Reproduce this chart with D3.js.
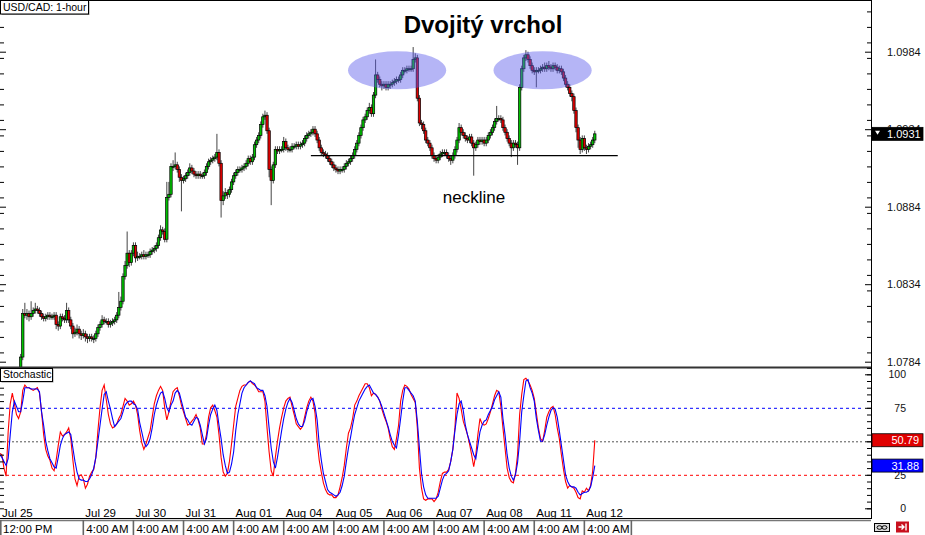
<!DOCTYPE html>
<html><head><meta charset="utf-8">
<script src="https://cdn.jsdelivr.net/npm/d3@7"></script>
<style>body{margin:0;background:#fff;} svg{display:block;font-family:Arial,"Liberation Sans",sans-serif;}</style>
</head><body><svg id="c" width="925" height="535"></svg>
<script>
// ---------------- DATA ----------------
const closes = [
1.0772,1.0773,1.0771,1.0770,1.0772,1.0774,1.0773,1.0775,1.0774,1.0776,
1.0787,1.0815,1.0814,1.0815,1.0813,1.0815,1.0817,1.0818,1.0817,1.0815,
1.0813,1.0812,1.0813,1.0814,1.0813,1.0813,1.0814,1.0808,1.0807,1.0813,
1.0812,1.0811,1.0817,1.0811,1.0807,1.0802,1.0803,1.0805,1.0802,1.0801,
1.0802,1.0800,1.0799,1.0800,1.0799,1.0799,1.0802,1.0806,1.0808,1.0811,
1.0810,1.0810,1.0808,1.0809,1.0810,1.0811,1.0814,1.0819,1.0823,1.0839,
1.0846,1.0854,1.0848,1.0854,1.0859,1.0851,1.0852,1.0852,1.0853,1.0852,
1.0853,1.0853,1.0855,1.0856,1.0857,1.0859,1.0864,1.0869,1.0868,1.0863,
1.0890,1.0892,1.0910,1.0910,1.0911,1.0908,1.0903,1.0901,1.0902,1.0904,
1.0906,1.0909,1.0907,1.0905,1.0904,1.0905,1.0904,1.0904,1.0906,1.0910,
1.0913,1.0914,1.0915,1.0916,1.0919,1.0912,1.0888,1.0891,1.0893,1.0892,
1.0895,1.0900,1.0904,1.0906,1.0908,1.0908,1.0909,1.0910,1.0912,1.0915,
1.0913,1.0916,1.0924,1.0927,1.0930,1.0937,1.0942,1.0943,1.0933,1.0908,
1.0901,1.0911,1.0921,1.0920,1.0921,1.0921,1.0926,1.0922,1.0921,1.0921,
1.0923,1.0923,1.0924,1.0923,1.0924,1.0925,1.0928,1.0930,1.0931,1.0932,
1.0934,1.0931,1.0927,1.0922,1.0919,1.0918,1.0917,1.0915,1.0913,1.0911,
1.0909,1.0908,1.0907,1.0908,1.0908,1.0910,1.0912,1.0913,1.0915,1.0917,
1.0921,1.0925,1.0930,1.0935,1.0940,1.0942,1.0946,1.0948,1.0944,1.0956,
1.0969,1.0966,1.0963,1.0962,1.0963,1.0961,1.0963,1.0963,1.0964,1.0965,
1.0966,1.0966,1.0969,1.0972,1.0972,1.0973,1.0973,1.0973,1.0979,1.0980,
1.0954,1.0938,1.0937,1.0933,1.0927,1.0925,1.0922,1.0917,1.0915,1.0914,
1.0916,1.0918,1.0919,1.0919,1.0917,1.0915,1.0914,1.0917,1.0921,1.0927,
1.0935,1.0932,1.0930,1.0928,1.0927,1.0929,1.0925,1.0922,1.0924,1.0927,
1.0926,1.0927,1.0925,1.0927,1.0930,1.0932,1.0935,1.0939,1.0941,1.0941,
1.0940,1.0935,1.0932,1.0928,1.0925,1.0922,1.0925,1.0924,1.0922,1.0961,
1.0973,1.0980,1.0982,1.0979,1.0975,1.0972,1.0971,1.0972,1.0972,1.0973,
1.0974,1.0973,1.0975,1.0974,1.0973,1.0975,1.0974,1.0972,1.0973,1.0971,
1.0967,1.0963,1.0961,1.0957,1.0955,1.0946,1.0935,1.0927,1.0921,1.0928,
1.0922,1.0921,1.0923,1.0924,1.0927,1.0931];

const opens = [
1.0771,1.0772,1.0773,1.0771,1.0770,1.0772,1.0774,1.0773,1.0775,1.0774,
1.0776,1.0787,1.0815,1.0814,1.0815,1.0813,1.0815,1.0817,1.0818,1.0817,
1.0815,1.0813,1.0812,1.0813,1.0814,1.0813,1.0813,1.0814,1.0808,1.0807,
1.0813,1.0812,1.0811,1.0817,1.0811,1.0807,1.0802,1.0803,1.0805,1.0802,
1.0801,1.0802,1.0800,1.0799,1.0800,1.0799,1.0799,1.0802,1.0806,1.0808,
1.0811,1.0810,1.0810,1.0808,1.0809,1.0810,1.0811,1.0814,1.0819,1.0823,
1.0839,1.0846,1.0854,1.0848,1.0854,1.0859,1.0851,1.0852,1.0852,1.0853,
1.0852,1.0853,1.0853,1.0855,1.0856,1.0857,1.0859,1.0864,1.0869,1.0868,
1.0863,1.0890,1.0892,1.0910,1.0910,1.0911,1.0908,1.0903,1.0901,1.0902,
1.0904,1.0906,1.0909,1.0907,1.0905,1.0904,1.0905,1.0904,1.0904,1.0906,
1.0910,1.0913,1.0914,1.0915,1.0916,1.0919,1.0912,1.0888,1.0891,1.0893,
1.0892,1.0895,1.0900,1.0904,1.0906,1.0908,1.0908,1.0909,1.0910,1.0912,
1.0915,1.0913,1.0916,1.0924,1.0927,1.0930,1.0937,1.0942,1.0943,1.0933,
1.0908,1.0901,1.0911,1.0921,1.0920,1.0921,1.0921,1.0926,1.0922,1.0921,
1.0921,1.0923,1.0923,1.0924,1.0923,1.0924,1.0925,1.0928,1.0930,1.0931,
1.0932,1.0934,1.0931,1.0927,1.0922,1.0919,1.0918,1.0917,1.0915,1.0913,
1.0911,1.0909,1.0908,1.0907,1.0908,1.0908,1.0910,1.0912,1.0913,1.0915,
1.0917,1.0921,1.0925,1.0930,1.0935,1.0940,1.0942,1.0946,1.0948,1.0944,
1.0956,1.0969,1.0966,1.0963,1.0962,1.0963,1.0961,1.0963,1.0963,1.0964,
1.0965,1.0966,1.0966,1.0969,1.0972,1.0972,1.0973,1.0973,1.0973,1.0979,
1.0980,1.0954,1.0938,1.0937,1.0933,1.0927,1.0925,1.0922,1.0917,1.0915,
1.0914,1.0916,1.0918,1.0919,1.0919,1.0917,1.0915,1.0914,1.0917,1.0921,
1.0927,1.0935,1.0932,1.0930,1.0928,1.0927,1.0929,1.0925,1.0922,1.0924,
1.0927,1.0926,1.0927,1.0925,1.0927,1.0930,1.0932,1.0935,1.0939,1.0941,
1.0941,1.0940,1.0935,1.0932,1.0928,1.0925,1.0922,1.0925,1.0924,1.0922,
1.0961,1.0973,1.0980,1.0982,1.0979,1.0975,1.0972,1.0971,1.0972,1.0972,
1.0973,1.0974,1.0973,1.0975,1.0974,1.0973,1.0975,1.0974,1.0972,1.0973,
1.0971,1.0967,1.0963,1.0961,1.0957,1.0955,1.0946,1.0935,1.0927,1.0921,
1.0928,1.0922,1.0921,1.0923,1.0924,1.0927];

const highs = [
1.0774,1.0775,1.0775,1.0773,1.0774,1.0776,1.0776,1.0777,1.0777,1.0778,
1.0789,1.0818,1.0822,1.0818,1.0817,1.0823,1.0819,1.0822,1.0820,1.0819,
1.0817,1.0815,1.0815,1.0816,1.0816,1.0815,1.0816,1.0816,1.0810,1.0815,
1.0815,1.0814,1.0822,1.0819,1.0813,1.0809,1.0806,1.0808,1.0807,1.0804,
1.0805,1.0804,1.0802,1.0802,1.0802,1.0801,1.0804,1.0808,1.0810,1.0814,
1.0813,1.0812,1.0812,1.0811,1.0812,1.0813,1.0816,1.0829,1.0826,1.0841,
1.0849,1.0868,1.0856,1.0856,1.0861,1.0861,1.0855,1.0854,1.0855,1.0856,
1.0855,1.0855,1.0857,1.0858,1.0859,1.0861,1.0866,1.0872,1.0871,1.0870,
1.0900,1.0900,1.0912,1.0914,1.0919,1.0913,1.0910,1.0905,1.0904,1.0906,
1.0908,1.0912,1.0911,1.0909,1.0907,1.0907,1.0907,1.0906,1.0908,1.0912,
1.0915,1.0916,1.0917,1.0918,1.0931,1.0921,1.0914,1.0894,1.0896,1.0895,
1.0897,1.0902,1.0906,1.0908,1.0910,1.0910,1.0911,1.0912,1.0914,1.0917,
1.0917,1.0918,1.0926,1.0929,1.0932,1.0939,1.0944,1.0946,1.0945,1.0935,
1.0910,1.0913,1.0923,1.0923,1.0923,1.0923,1.0929,1.0928,1.0924,1.0923,
1.0925,1.0925,1.0926,1.0926,1.0926,1.0927,1.0930,1.0932,1.0933,1.0934,
1.0936,1.0936,1.0933,1.0929,1.0924,1.0921,1.0920,1.0919,1.0917,1.0915,
1.0913,1.0911,1.0910,1.0910,1.0910,1.0912,1.0914,1.0915,1.0917,1.0919,
1.0923,1.0927,1.0932,1.0937,1.0942,1.0944,1.0948,1.0951,1.0950,1.0958,
1.0979,1.0971,1.0968,1.0965,1.0965,1.0965,1.0965,1.0965,1.0966,1.0967,
1.0968,1.0968,1.0971,1.0974,1.0974,1.0975,1.0975,1.0975,1.0987,1.0983,
1.0982,1.0956,1.0940,1.0939,1.0935,1.0929,1.0927,1.0924,1.0919,1.0917,
1.0918,1.0920,1.0921,1.0921,1.0921,1.0919,1.0917,1.0919,1.0923,1.0929,
1.0938,1.0937,1.0934,1.0932,1.0930,1.0931,1.0931,1.0927,1.0926,1.0929,
1.0929,1.0929,1.0929,1.0929,1.0932,1.0934,1.0937,1.0941,1.0949,1.0943,
1.0943,1.0942,1.0937,1.0934,1.0930,1.0927,1.0927,1.0927,1.0926,1.0963,
1.0975,1.0982,1.0985,1.0984,1.0981,1.0977,1.0974,1.0974,1.0974,1.0975,
1.0976,1.0977,1.0977,1.0978,1.0976,1.0977,1.0977,1.0976,1.0975,1.0975,
1.0973,1.0969,1.0965,1.0963,1.0959,1.0957,1.0948,1.0937,1.0929,1.0930,
1.0930,1.0924,1.0925,1.0926,1.0929,1.0933];

const lows = [
1.0769,1.0770,1.0769,1.0768,1.0768,1.0770,1.0771,1.0771,1.0772,1.0772,
1.0774,1.0785,1.0812,1.0811,1.0810,1.0811,1.0813,1.0815,1.0815,1.0813,
1.0811,1.0810,1.0810,1.0811,1.0811,1.0811,1.0811,1.0805,1.0804,1.0805,
1.0810,1.0809,1.0809,1.0809,1.0805,1.0799,1.0800,1.0801,1.0799,1.0798,
1.0799,1.0797,1.0796,1.0797,1.0797,1.0796,1.0797,1.0800,1.0804,1.0806,
1.0808,1.0808,1.0806,1.0806,1.0807,1.0808,1.0809,1.0812,1.0817,1.0821,
1.0837,1.0844,1.0845,1.0846,1.0852,1.0848,1.0849,1.0850,1.0850,1.0850,
1.0850,1.0851,1.0851,1.0853,1.0854,1.0855,1.0857,1.0862,1.0866,1.0861,
1.0861,1.0888,1.0890,1.0907,1.0908,1.0906,1.0900,1.0881,1.0899,1.0900,
1.0902,1.0904,1.0905,1.0903,1.0902,1.0902,1.0902,1.0902,1.0902,1.0904,
1.0908,1.0911,1.0912,1.0913,1.0914,1.0910,1.0877,1.0885,1.0889,1.0889,
1.0890,1.0893,1.0898,1.0902,1.0904,1.0906,1.0906,1.0907,1.0908,1.0910,
1.0911,1.0911,1.0914,1.0922,1.0925,1.0928,1.0935,1.0940,1.0931,1.0903,
1.0885,1.0899,1.0909,1.0918,1.0918,1.0919,1.0919,1.0920,1.0919,1.0919,
1.0919,1.0921,1.0921,1.0921,1.0921,1.0922,1.0923,1.0926,1.0928,1.0929,
1.0930,1.0929,1.0925,1.0920,1.0917,1.0916,1.0915,1.0913,1.0911,1.0909,
1.0907,1.0906,1.0905,1.0905,1.0906,1.0906,1.0908,1.0910,1.0911,1.0913,
1.0915,1.0919,1.0923,1.0928,1.0933,1.0938,1.0940,1.0944,1.0942,1.0942,
1.0954,1.0964,1.0961,1.0959,1.0960,1.0959,1.0959,1.0960,1.0961,1.0962,
1.0963,1.0964,1.0964,1.0967,1.0970,1.0970,1.0971,1.0971,1.0971,1.0977,
1.0952,1.0936,1.0934,1.0931,1.0925,1.0923,1.0920,1.0915,1.0913,1.0912,
1.0912,1.0914,1.0916,1.0917,1.0915,1.0913,1.0911,1.0912,1.0915,1.0919,
1.0925,1.0930,1.0928,1.0926,1.0925,1.0925,1.0923,1.0904,1.0920,1.0922,
1.0924,1.0924,1.0923,1.0923,1.0925,1.0928,1.0930,1.0933,1.0937,1.0939,
1.0938,1.0933,1.0930,1.0926,1.0923,1.0916,1.0920,1.0922,1.0911,1.0920,
1.0959,1.0971,1.0978,1.0977,1.0973,1.0970,1.0969,1.0961,1.0970,1.0970,
1.0971,1.0971,1.0971,1.0972,1.0971,1.0971,1.0972,1.0970,1.0970,1.0969,
1.0965,1.0961,1.0959,1.0955,1.0952,1.0944,1.0932,1.0922,1.0918,1.0919,
1.0920,1.0918,1.0919,1.0921,1.0922,1.0925];

const stochK = [
41,40,30,24,57,78,86,78,70,67,
72,88,92,90,90,89,88,89,90,86,
72,55,44,39,36,30,28,36,47,57,
54,55,57,60,52,36,22,17,24,25,
22,15,18,24,27,29,38,58,75,88,
92,81,70,63,60,61,63,67,70,76,
82,80,77,78,80,77,70,58,49,44,
48,53,58,68,78,84,88,91,88,75,
66,72,80,87,89,90,84,77,72,67,
62,63,65,67,70,66,60,48,48,55,
68,75,77,73,68,55,38,27,24,26,
35,48,62,76,82,88,91,92,92,94,
95,93,92,90,87,87,87,80,60,42,
28,24,38,50,60,68,75,80,82,83,
76,70,63,61,59,61,68,75,80,83,
80,71,50,36,27,19,14,11,10,10,
8,8,10,16,23,32,45,56,60,67,
77,80,84,87,90,93,93,90,84,86,
85,83,80,74,69,65,60,52,46,44,
52,62,80,88,92,91,89,85,82,79,
60,30,15,7,6,7,7,7,5,7,
12,20,26,27,27,29,35,44,60,86,
82,74,65,60,55,48,40,31,40,55,
67,63,62,63,67,72,78,84,88,87,
76,60,45,30,23,20,19,26,40,70,
85,96,97,95,92,88,82,71,60,52,
50,58,68,72,75,76,70,60,52,40,
29,20,15,17,16,15,12,8,7,13,
12,15,13,17,28,50.79];

const stochD = [
40,38,35,32,37,55,72,80,76,72,
72,80,90,90,90,89,89,89,89,87,
72,62,50,43,37,34,31,30,38,47,
52,55,56,57,55,45,35,27,22,21,
21,20,20,22,25,30,38,50,62,74,
85,87,80,74,67,61,63,65,67,72,
77,79,80,80,78,77,74,64,57,50,
46,48,52,60,70,77,82,86,87,82,
75,72,77,80,86,88,86,80,74,68,
66,63,62,65,68,67,62,55,48,52,
62,70,74,77,73,62,52,40,32,26,
27,33,42,58,70,78,86,90,92,94,
95,94,93,90,89,88,88,84,76,60,
45,35,30,38,48,58,67,74,79,82,
79,73,67,63,61,61,65,72,77,81,
82,76,66,48,36,26,20,14,12,11,
10,9,10,12,17,24,35,45,53,62,
70,75,80,83,86,89,91,92,89,86,
85,83,80,76,71,66,61,55,50,47,
45,55,67,80,90,90,88,86,84,80,
65,45,26,16,10,7.5,7.5,7.5,7.5,7.5,
9,15,21,25,26,28,35,44,58,70,
78,80,73,62,55,50,45,40,37,47,
57,62,65,66,70,73,76,81,84,87,
83,67,55,40,30,24,21,25,34,50,
72,84,95,96,90,86,80,67,58,50,
50,55,62,68,73,75,74,68,58,47,
36,25,20,17,16,16,15,12,10,11,
12,12,13,16,23,31.88];

const priceTicks = [1.0784, 1.0834, 1.0884, 1.0934, 1.0984];
const stochTicks = [0, 25, 50, 75, 100];
const stochTickLabels = [0, 25, 75, 100];   // "50" sits under the %K value box
const stochLevels = [75, 50, 25];
const timeIdx   = [0, 40, 64, 88, 112, 136, 160, 184, 208, 232, 256, 280];
const timeDates = ["Jul 25","Jul 29","Jul 30","Jul 31","Aug 01","Aug 04","Aug 05","Aug 06","Aug 07","Aug 08","Aug 11","Aug 12"];
const timeHours = ["12:00 PM","4:00 AM","4:00 AM","4:00 AM","4:00 AM","4:00 AM","4:00 AM","4:00 AM","4:00 AM","4:00 AM","4:00 AM","4:00 AM"];
const lastPrice = 1.0931;
const lastK = 50.79, lastD = 31.88;
const necklinePrice = 1.0917;
const necklineSpan = [149, 296];
const topCenters = [190.3, 260];
const topPrice = 1.0972;
const topHalfWidthBars = 23.5, topHalfHeight = 0.00123;

// ---------------- SCALES ----------------
const W = 925, H = 535, AX = 871;
const x = d3.scaleLinear().domain([0, 417.3]).range([-0.2, AX]);
const y = d3.scaleLinear().domain([1.0784, 1.0984]).range([361.7, 51.7]);
const ys = d3.scaleLinear().domain([0, 100]).range([508.3, 374.3]);

const svg = d3.select("#c");
svg.append("rect").attr("width", W).attr("height", H).attr("fill", "#fff");
const defs = svg.append("defs");
defs.append("clipPath").attr("id","cm").append("rect").attr("x",0).attr("y",1).attr("width",AX).attr("height",366);
defs.append("clipPath").attr("id","cs").append("rect").attr("x",0).attr("y",368).attr("width",AX).attr("height",150);

svg.append("text").attr("x", 483).attr("y", 33).attr("text-anchor","middle")
  .attr("font-size", 24).attr("font-weight","bold").attr("fill","#000").text("Dvojitý vrchol");
svg.append("text").attr("x", 474).attr("y", 203).attr("text-anchor","middle")
  .attr("font-size", 17).attr("fill","#000").text("neckline");

// candles
const idx = d3.range(closes.length);
const gC = svg.append("g").attr("clip-path","url(#cm)");
gC.selectAll("line.w").data(idx).join("line").attr("class","w")
  .attr("x1", i => x(i)).attr("x2", i => x(i))
  .attr("y1", i => y(highs[i])).attr("y2", i => y(lows[i]))
  .attr("stroke", "#444").attr("stroke-width", 1);
gC.selectAll("rect.b").data(idx).join("rect").attr("class","b")
  .attr("x", i => x(i) - 1.2).attr("width", 2.4)
  .attr("y", i => y(Math.max(opens[i], closes[i])))
  .attr("height", i => Math.max(1, Math.abs(y(opens[i]) - y(closes[i]))))
  .attr("fill", i => closes[i] >= opens[i] ? "#00c000" : "#e00000")
  .attr("stroke", "#000").attr("stroke-width", 0.7);

// highlighted tops
svg.selectAll("ellipse.top").data(topCenters).join("ellipse").attr("class","top")
  .attr("cx", d => x(d)).attr("cy", y(topPrice))
  .attr("rx", d => x(d + topHalfWidthBars) - x(d))
  .attr("ry", y(topPrice - topHalfHeight) - y(topPrice))
  .attr("fill", "rgb(90,90,235)").attr("fill-opacity", 0.45);

// neckline
svg.append("line").attr("x1", x(necklineSpan[0])).attr("x2", x(necklineSpan[1]))
  .attr("y1", y(necklinePrice)).attr("y2", y(necklinePrice))
  .attr("stroke", "#000").attr("stroke-width", 1.2);

// stochastic
const gS = svg.append("g").attr("clip-path","url(#cs)");
const dashCol = {75:"#0000ff", 50:"#555", 25:"#ff0000"};
gS.selectAll("line.lv").data(stochLevels).join("line").attr("class","lv")
  .attr("x1", 0).attr("x2", 862).attr("y1", d => ys(d) + 0.5).attr("y2", d => ys(d) + 0.5)
  .attr("stroke", d => dashCol[d]).attr("stroke-width", 1)
  .attr("stroke-dasharray", d => d === 50 ? "2,2" : "3,3");
const ln = arr => d3.line().x((d, i) => x(i)).y(d => ys(d))(arr);
gS.append("path").attr("d", ln(stochK)).attr("fill","none").attr("stroke","#ff0000").attr("stroke-width",1.1);
gS.append("path").attr("d", ln(stochD)).attr("fill","none").attr("stroke","#0000ff").attr("stroke-width",1.1);

// frame lines
svg.append("line").attr("x1",0).attr("x2",AX).attr("y1",0.5).attr("y2",0.5).attr("stroke","#000");
svg.append("line").attr("x1",0).attr("x2",AX).attr("y1",367.5).attr("y2",367.5).attr("stroke","#333").attr("stroke-width",2);
svg.append("line").attr("x1",0).attr("x2",AX+1).attr("y1",518.5).attr("y2",518.5).attr("stroke","#000");
svg.append("line").attr("x1",AX+0.5).attr("x2",AX+0.5).attr("y1",0).attr("y2",519).attr("stroke","#000");

function plainTicks(g) { g.select(".domain").remove(); g.selectAll("line").attr("stroke","#000"); }
const minorP = d3.range(1.0780, 1.1016, 0.001);
svg.append("g").attr("transform",`translate(${AX},0)`).call(d3.axisLeft(y).tickValues(minorP).tickSize(4).tickFormat("")).call(plainTicks);
svg.append("g").attr("transform",`translate(${AX},0)`).call(d3.axisLeft(y).tickValues(priceTicks).tickSize(6).tickFormat("")).call(plainTicks);
svg.append("g").call(d3.axisRight(y).tickValues(minorP).tickSize(4).tickFormat("")).call(plainTicks);
svg.append("g").call(d3.axisRight(y).tickValues(priceTicks).tickSize(6).tickFormat("")).call(plainTicks);
svg.append("g").attr("transform",`translate(${AX},0)`)
  .call(d3.axisRight(y).tickValues(priceTicks).tickSize(0).tickPadding(16).tickFormat(d3.format(".4f")))
  .call(g => { g.select(".domain").remove();
    g.selectAll("text").attr("font-size",11).attr("font-family","Arial, 'Liberation Sans', sans-serif").attr("fill","#111"); });

const minorS = d3.range(0, 101, 5);
svg.append("g").attr("transform",`translate(${AX},0)`).call(d3.axisLeft(ys).tickValues(minorS).tickSize(4).tickFormat("")).call(plainTicks);
svg.append("g").attr("transform",`translate(${AX},0)`).call(d3.axisLeft(ys).tickValues(stochTicks).tickSize(6).tickFormat("")).call(plainTicks);
svg.append("g").call(d3.axisRight(ys).tickValues(minorS).tickSize(4).tickFormat("")).call(plainTicks);
svg.append("g").attr("transform",`translate(${AX},0)`)
  .call(d3.axisRight(ys).tickValues(stochTickLabels).tickSize(0).tickPadding(35).tickFormat(d3.format("d")))
  .call(g => { g.select(".domain").remove();
    g.selectAll("text").attr("text-anchor","end").attr("font-size",10.5)
     .attr("font-family","Arial, 'Liberation Sans', sans-serif").attr("fill","#111"); });

function valBox(v, scale, fill, txt, anchorEnd) {
  const cy = scale(v);
  svg.append("rect").attr("x", AX + 1).attr("y", cy - 6.5).attr("width", 51).attr("height", 13)
    .attr("fill", fill).attr("stroke", "#000").attr("stroke-width", 0.8);
  svg.append("text").attr("x", anchorEnd ? 919 : 887).attr("y", cy).attr("dy","0.36em")
    .attr("text-anchor", anchorEnd ? "end" : "start")
    .attr("font-size", 11).attr("fill", "#fff").text(txt);
}
valBox(lastPrice, y, "#000", d3.format(".4f")(lastPrice), false);
svg.append("path").attr("d", `M${AX+4},${y(lastPrice)-3} L${AX+9},${y(lastPrice)-3} L${AX+6.5},${y(lastPrice)+1} Z`).attr("fill","#fff");
valBox(lastK, ys, "#e00000", d3.format(".2f")(lastK), true);
valBox(lastD, ys, "#0000ff", d3.format(".2f")(lastD), true);

// time axis
const gT = svg.append("g");
gT.append("line").attr("x1",0).attr("x2",AX).attr("y1",520.5).attr("y2",520.5).attr("stroke","#777").attr("stroke-width",1.5);
gT.selectAll("line.sep").data(timeIdx).join("line").attr("class","sep")
  .attr("x1", d => Math.max(0.8, x(d))).attr("x2", d => Math.max(0.8, x(d)))
  .attr("y1", 520).attr("y2", 535).attr("stroke","#666").attr("stroke-width",1.6);
gT.append("line").attr("x1", x(timeIdx[timeIdx.length-1]) + 47).attr("x2", x(timeIdx[timeIdx.length-1]) + 47)
  .attr("y1",520).attr("y2",535).attr("stroke","#666").attr("stroke-width",1.6);
gT.selectAll("text.dt").data(timeIdx).join("text").attr("class","dt")
  .attr("x", d => Math.max(0, x(d)) + 2).attr("y", 517).attr("font-size", 11.5).attr("fill","#000")
  .text((d, k) => timeDates[k]);
gT.selectAll("text.hr").data(timeIdx).join("text").attr("class","hr")
  .attr("x", d => Math.max(0, x(d)) + 3).attr("y", 533).attr("font-size", 11.5).attr("fill","#000")
  .text((d, k) => timeHours[k]);

function caption(xx, yy, w, h, txt) {
  svg.append("rect").attr("x", xx + 1.5).attr("y", yy + 1.5).attr("width", w).attr("height", h).attr("fill", "#999");
  svg.append("rect").attr("x", xx + 0.5).attr("y", yy + 0.5).attr("width", w).attr("height", h)
    .attr("fill", "#fff").attr("stroke", "#000").attr("stroke-width", 1);
  svg.append("text").attr("x", xx + 3).attr("y", yy + h - 3).attr("font-size", 10.5).attr("fill","#000").text(txt);
}
caption(0, 0, 88, 13.5, "USD/CAD: 1-hour");
caption(0, 368, 52, 13, "Stochastic");

svg.append("rect").attr("x",874.5).attr("y",523.5).attr("width",15).attr("height",8).attr("fill","#ddd").attr("stroke","#000");
svg.append("ellipse").attr("cx",879.5).attr("cy",527.5).attr("rx",2.5).attr("ry",1.8).attr("fill","none").attr("stroke","#000");
svg.append("ellipse").attr("cx",884.5).attr("cy",527.5).attr("rx",2.5).attr("ry",1.8).attr("fill","none").attr("stroke","#000");
svg.append("rect").attr("x",896).attr("y",521.5).attr("width",13).attr("height",11).attr("fill","#c8101e");
svg.append("path").attr("d","M898.5,527 L904,527 M901.5,524.5 L904,527 L901.5,529.5 M906,523.5 L906,530.5")
  .attr("stroke","#fff").attr("stroke-width",1.4).attr("fill","none");
</script>
</body></html>
